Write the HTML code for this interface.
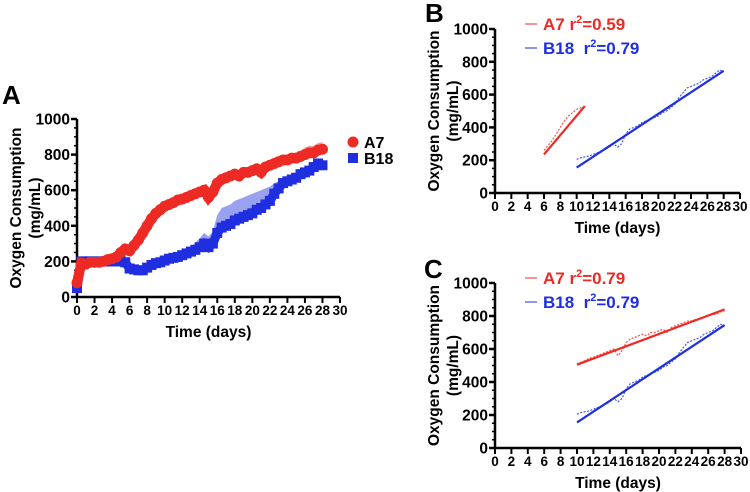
<!DOCTYPE html>
<html><head><meta charset="utf-8">
<style>
body{margin:0;background:#fff;}
svg{display:block;font-family:"Liberation Sans",Arial,sans-serif;font-weight:bold;}
</style></head>
<body>
<svg id="fig" width="750" height="492" viewBox="0 0 750 492"></svg>
<script>
const days=[0,0.5,1,1.5,2,2.5,3,3.5,4,4.5,5,5.5,6,6.5,7,7.5,8,8.5,9,9.5,10,10.5,11,11.5,12,12.5,13,13.5,14,14.5,15,15.5,16,16.5,17,17.5,18,18.5,19,19.5,20,20.5,21,21.5,22,22.5,23,23.5,24,24.5,25,25.5,26,26.5,27,27.5,28];
const a7=[80,190,185,195,195,195,200,210,215,225,250,270,260,290,320,360,400,440,470,490,510,520,530,545,550,560,570,580,590,600,560,590,640,660,670,680,690,680,700,700,710,720,700,730,740,750,760,770,770,780,780,790,800,810,810,825,830];
const b18=[50,200,200,200,200,200,200,200,200,200,200,195,160,155,150,150,165,180,190,195,205,215,220,225,235,245,255,265,280,300,280,300,360,390,400,410,430,440,450,460,470,490,500,520,540,580,610,640,650,660,670,690,700,710,730,750,740];
const a7Err=[10,20,20,20,20,20,20,20,20,20,25,30,30,30,30,30,30,30,30,30,30,30,30,30,30,30,30,30,30,30,30,30,30,30,30,30,30,30,30,30,30,30,30,30,30,30,30,30,30,30,30,30,40,40,40,40,40];
const b18Err=[10,20,20,20,20,20,20,20,20,20,20,20,20,20,20,20,20,20,20,20,20,20,20,20,20,20,30,40,50,60,60,70,100,110,110,110,110,110,110,110,110,100,100,90,80,60,40,30,30,30,30,30,30,30,30,30,30];
const yTicks=[0,200,400,600,800,1000];
const xTicks=[0,2,4,6,8,10,12,14,16,18,20,22,24,26,28,30];
const fitB_a7=[6,235,11,530];
const fitB_b18=[10,155,28,745];
const fitC_a7=[10,505,28,840];
const fitC_b18=[10,155,28,745];

const NS="http://www.w3.org/2000/svg";
const svg=document.getElementById('fig');
function mk(tag,attrs,parent,text){const e=document.createElementNS(NS,tag);for(const k in attrs)e.setAttribute(k,attrs[k]);if(text!==undefined)e.textContent=text;(parent||svg).appendChild(e);return e;}
const RED="#ee2a24",BLUE="#1f2fe0";

function axes(g,P,title){
  const X=d=>P.x0+(P.x1-P.x0)*d/30, Y=v=>P.y0-(P.y0-P.y1)*v/1000;
  let ax=mk('line',{x1:P.x0,y1:P.y0+1,x2:P.x0,y2:P.y1,stroke:'#000','stroke-width':2.5},g);
  
  let bx=mk('line',{x1:P.x0,y1:P.y0,x2:P.x1,y2:P.y0,stroke:'#000','stroke-width':2.5},g);
  
  yTicks.forEach(v=>{mk('line',{x1:P.x0-6,x2:P.x0,y1:Y(v),y2:Y(v),stroke:'#000','stroke-width':2.5},g);
    for(let m=1;m<4&&v<1000;m++)mk('line',{x1:P.x0-3,x2:P.x0,y1:Y(v+m*50),y2:Y(v+m*50),stroke:'#000','stroke-width':1.5},g);
    const t=mk('text',{x:P.x0-7,y:Y(v)+5.5,'text-anchor':'end','font-size':15.5},g,v);
    });
  xTicks.forEach(v=>{mk('line',{x1:X(v),x2:X(v),y1:P.y0,y2:P.y0+6,stroke:'#000','stroke-width':2},g);
    const t=mk('text',{x:X(v),y:P.y0+18,'text-anchor':'middle','font-size':13.5},g,v);
    });
  const cy=(P.y0+P.y1)/2;
  const yt=mk('text',{transform:`translate(${P.x0-56},${cy}) rotate(-90)`,'text-anchor':'middle','font-size':15.5},g);
  
  mk('tspan',{x:0,dy:0},yt,'Oxygen Consumption');mk('tspan',{x:0,dy:19},yt,'(mg/mL)');
  const xt=mk('text',{x:(P.x0+P.x1)/2,y:P.y0+40,'text-anchor':'middle','font-size':15.5},g,'Time (days)');
  
  const pl=mk('text',{x:P.lx,y:P.ly,'font-size':26},g,title);
  
  return {X,Y};
}

const gA=mk('g',{});
const A=axes(gA,{x0:77,x1:340,y0:297,y1:119,lx:2,ly:104},'A');
function band(g,vals,errs,col,name){
  let up=days.map((d,i)=>`${A.X(d)},${A.Y(vals[i]+errs[i])}`);
  let dn=days.map((d,i)=>`${A.X(d)},${A.Y(vals[i])}`).reverse();
  const p=mk('polygon',{points:up.concat(dn).join(' '),fill:col,opacity:0.45},g);
  
}
band(gA,b18,b18Err,BLUE,'b18-error-band');
band(gA,a7,a7Err,RED,'a7-error-band');
let pb=mk('polyline',{points:days.map((d,i)=>`${A.X(d)},${A.Y(b18[i])}`).join(' '),fill:'none',stroke:BLUE,'stroke-width':9},gA);

days.forEach((d,i)=>{const r=mk('rect',{x:A.X(d)-5,y:A.Y(b18[i])-5,width:10,height:10,fill:BLUE},gA);
  });
let pa=mk('polyline',{points:days.map((d,i)=>`${A.X(d)},${A.Y(a7[i])}`).join(' '),fill:'none',stroke:RED,'stroke-width':10},gA);

days.forEach((d,i)=>{const c=mk('circle',{cx:A.X(d),cy:A.Y(a7[i]),r:5.5,fill:RED},gA);
  });
let lg=mk('circle',{cx:353,cy:142,r:5.5,fill:RED},gA);
let lt=mk('text',{x:364,y:148,'font-size':16},gA,'A7');
let lg2=mk('rect',{x:348,y:153,width:10,height:10,fill:BLUE},gA);
let lt2=mk('text',{x:364,y:164,'font-size':16},gA,'B18');

function fitPanel(name,P,label,fa,fb,r2a,r2b,a7from,a7to){
  const g=mk('g',{});
  const S=axes(g,P,label);
  function noisy(vals,from,to,col,nm){
    const pts=[];days.forEach((d,i)=>{if(d>=from&&d<=to)pts.push(`${S.X(d)},${S.Y(vals[i])}`);});
    const p=mk('polyline',{points:pts.join(' '),fill:'none',stroke:col,'stroke-width':1.2,'stroke-dasharray':'2 1.5',opacity:0.8},g);
    
  }
  noisy(a7,a7from,a7to,RED,'a7-data');
  noisy(b18,10,28,BLUE,'b18-data');
  let l1=mk('line',{x1:S.X(fa[0]),y1:S.Y(fa[1]),x2:S.X(fa[2]),y2:S.Y(fa[3]),stroke:RED,'stroke-width':2.2},g);
  
  let l2=mk('line',{x1:S.X(fb[0]),y1:S.Y(fb[1]),x2:S.X(fb[2]),y2:S.Y(fb[3]),stroke:BLUE,'stroke-width':2.2},g);
  
  const ly=P.y1-3;
  mk('line',{x1:525,x2:537,y1:ly-2,y2:ly-2,stroke:RED,'stroke-width':1},g);
  let t1=mk('text',{x:543,y:ly+4,'font-size':17,fill:RED},g);
  t1.innerHTML='A7 r<tspan dy="-7" font-size="11">2</tspan><tspan dy="7">='+r2a+'</tspan>';
  mk('line',{x1:525,x2:537,y1:ly+22,y2:ly+22,stroke:BLUE,'stroke-width':1},g);
  let t2=mk('text',{x:543,y:ly+28,'font-size':17,fill:BLUE},g);
  t2.innerHTML='B18&#160; r<tspan dy="-7" font-size="11">2</tspan><tspan dy="7">='+r2b+'</tspan>';
}
fitPanel('panel-b',{x0:495,x1:740,y0:193,y1:29,lx:425,ly:22},'B',fitB_a7,fitB_b18,'0.59','0.79',6,11);
fitPanel('panel-c',{x0:495,x1:741,y0:448,y1:283,lx:424,ly:278},'C',fitC_a7,fitC_b18,'0.79','0.79',10,28);
</script>
</body></html>
